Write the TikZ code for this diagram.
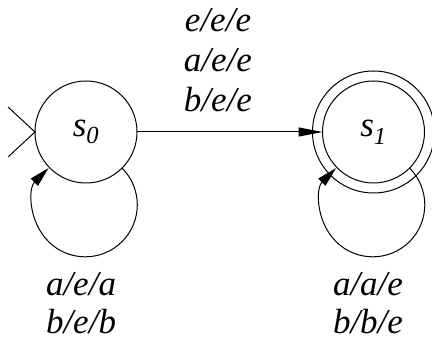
\documentclass[tikz,border=0pt]{standalone}
\usepackage{fontspec}
\setmainfont{Liberation Serif}
\usetikzlibrary{arrows.meta}
\begin{document}
\begin{tikzpicture}[x=1pt,y=1pt,
  state/.style={draw,circle,minimum size=102pt,inner sep=0pt,outer sep=0pt,line width=1pt},
  accept/.style={draw,circle,minimum size=122pt,inner sep=0pt,outer sep=0pt,line width=1pt},
  lbl/.style={font=\fontsize{35}{40}\selectfont\itshape,anchor=base,inner sep=0pt},
  slbl/.style={font=\fontsize{35}{40}\selectfont\itshape},
  edge/.style={line width=1pt,-{Triangle[length=24pt,width=9pt]}},
  loopedge/.style={line width=1pt,-{Triangle[length=20pt,width=10pt]}},
  every path/.style={line width=1pt}]
\useasboundingbox (0,0) rectangle (432,342);
\node[state] (s0) at (86,210) {};
\node[slbl] (s0l) at (s0.center) {s\textsubscript{0}};
\node[state] (s1) at (373.5,210) {};
\node[accept] (s1o) at (s1.center) {};
\node[slbl] (s1l) at (s1.center) {s\textsubscript{1}};
% initial marker
\coordinate (i1) at (8,235);
\coordinate (i2) at (8,185);
\draw (i1) -- (s0.west) -- (i2);
% transition
\draw[edge] (s0) -- (s1);
\node[lbl] (t1) at (218,310) {e/e/e};
\node[lbl] (t2) at (218,270) {a/e/e};
\node[lbl] (t3) at (218,230) {b/e/e};
% loops
\draw[loopedge] (s0.-45) arc[start angle=45,end angle=-225,radius=52pt];
\draw[loopedge] (s1.-45) arc[start angle=45,end angle=-225,radius=52pt];
\node[lbl] (l1) at (81,46) {a/e/a};
\node[lbl] (l2) at (81,8) {b/e/b};
\node[lbl] (r1) at (368,46) {a/a/e};
\node[lbl] (r2) at (368,8) {b/b/e};
\end{tikzpicture}
\end{document}
